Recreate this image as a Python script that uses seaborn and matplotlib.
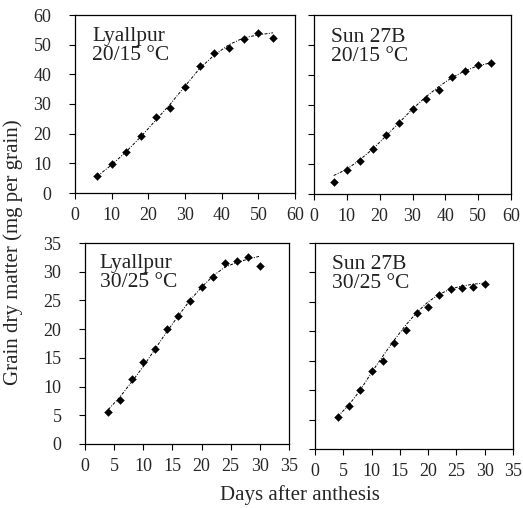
import matplotlib
matplotlib.use("Agg")
import matplotlib.pyplot as plt
import seaborn as sns
import pandas as pd

# Days after anthesis
days_20 = [6, 10, 14, 18, 22, 26, 30, 34, 38, 42, 46, 50, 54]
days_30 = [4, 6, 8, 10, 12, 14, 16, 18, 20, 22, 24, 26, 28, 30]

# Observed grain dry matter (mg per grain)
lyallpur_20 = [5.6, 9.7, 13.8, 19.1, 25.6, 28.8, 35.6, 42.8, 47.3, 49.0, 52.0, 54.0, 52.2]
sun27b_20 = [4.1, 8.1, 11.2, 15.2, 19.8, 23.9, 28.5, 31.8, 34.8, 39.2, 41.1, 43.2, 44.0]
lyallpur_30 = [5.6, 7.7, 11.3, 14.2, 16.5, 20.0, 22.3, 24.9, 27.4, 29.1, 31.5, 31.9, 32.6, 31.0]
sun27b_30 = [5.5, 7.3, 10.1, 13.2, 15.0, 18.0, 20.2, 23.1, 24.1, 26.2, 27.2, 27.3, 27.6, 28.1]

# Fitted curves read at the same days
lyallpur_20_fit = [5.6, 9.5, 14.0, 19.0, 24.5, 30.0, 36.0, 42.0, 46.5, 50.0, 52.3, 53.3, 54.0]
sun27b_20_fit = [6.2, 8.3, 11.5, 15.2, 19.5, 24.0, 28.5, 32.5, 36.0, 39.0, 41.3, 43.0, 44.0]
lyallpur_30_fit = [6.0, 8.2, 10.8, 13.5, 16.5, 19.5, 22.3, 25.0, 27.3, 29.3, 30.8, 31.6, 32.2, 32.7]
sun27b_30_fit = [5.5, 7.5, 10.0, 13.0, 15.8, 18.5, 21.0, 23.2, 25.0, 26.3, 27.2, 27.7, 28.0, 28.2]

panels = [
    ("Lyallpur\n20/15 °C", days_20, lyallpur_20, lyallpur_20_fit),
    ("Sun 27B\n20/15 °C", days_20, sun27b_20, sun27b_20_fit),
    ("Lyallpur\n30/25 °C", days_30, lyallpur_30, lyallpur_30_fit),
    ("Sun 27B\n30/25 °C", days_30, sun27b_30, sun27b_30_fit),
]

sns.set_style("ticks")
plt.rcParams['font.family'] = ['Liberation Serif', 'DejaVu Serif']

W, H = 523, 508
fig = plt.figure(figsize=(W / 100, H / 100), dpi=100)

# axes boxes in pixels: left, top, right, bottom
boxes = [(75, 15, 295, 193), (314, 15, 511, 194), (85, 243, 289, 444), (315, 243, 513, 449)]
text_pos = [(0.077, 0.935), (0.086, 0.93), (0.073, 0.945), (0.086, 0.94)]

for i, (label, x, y, fit) in enumerate(panels):
    l, t, r, b = boxes[i]
    ax = fig.add_axes([l / W, 1 - b / H, (r - l) / W, (b - t) / H])
    df = pd.DataFrame({"day": x, "obs": y, "fit": fit})
    sns.lineplot(data=df, x="day", y="fit", ax=ax, color="black", lw=0.7,
                 linestyle=(0, (3, 1.5, 1, 1.5)))
    sns.scatterplot(data=df, x="day", y="obs", ax=ax, marker="D", color="black",
                    s=16, edgecolor="black", linewidth=0.3, zorder=3)
    if i < 2:
        ax.set_xlim(0, 60)
        ax.set_ylim(0, 60)
        ax.set_xticks(range(0, 61, 10))
        ax.set_yticks(range(0, 61, 10))
    else:
        ax.set_xlim(0, 35)
        ax.set_ylim(0, 35)
        ax.set_xticks(range(0, 36, 5))
        ax.set_yticks(range(0, 36, 5))
    if i % 2 == 1:
        ax.set_yticklabels([])
    ax.set_xlabel("")
    ax.set_ylabel("")
    ax.tick_params(labelsize=13, length=4, width=0.8, color="black")
    ax.tick_params(axis="x", pad=6)
    ax.tick_params(axis="y", pad=13)
    for s in ax.spines.values():
        s.set_color("black")
        s.set_linewidth(0.9)
    ax.text(text_pos[i][0], text_pos[i][1], label, transform=ax.transAxes,
            ha="left", va="top", fontsize=15.5, linespacing=1.0, color="#222222")

fig.text(300 / W, 1 - 495 / H, "Days after anthesis", ha="center", va="center", fontsize=15)
fig.text(13 / W, 1 - 252 / H, "Grain dry matter (mg per grain)", ha="center", va="center",
         rotation=90, fontsize=15)

fig.savefig("out.png", dpi=100)
